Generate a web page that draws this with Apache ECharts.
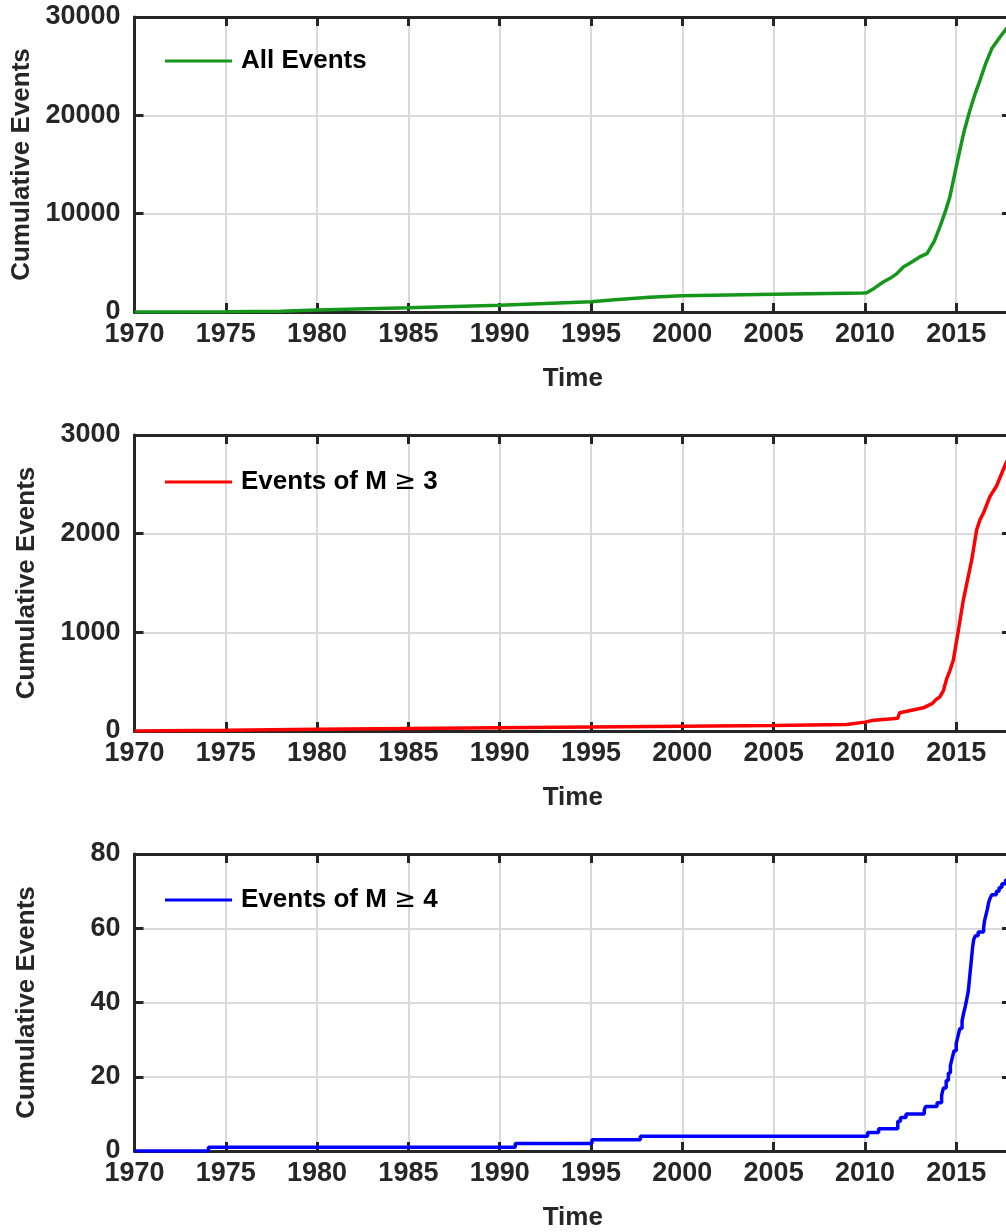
<!DOCTYPE html>
<html>
<head>
<meta charset="utf-8">
<title>Cumulative Events</title>
<script src="https://cdn.jsdelivr.net/npm/echarts@6/dist/echarts.min.js"></script>
<style>
  html, body { margin: 0; padding: 0; background: #ffffff; }
  #chart { width: 1006px; height: 1232px; }
</style>
</head>
<body>
<div id="chart"></div>
<script>
// Cumulative counts over time (decimal years)
const allTimes  = [1970, 1975, 1978, 1980, 1985, 1990, 1995, 1996.3, 1998.2, 2000, 2005, 2009.9,
                   2010.1, 2010.5, 2011.0, 2011.4, 2011.75, 2012.1, 2012.5, 2013.0, 2013.4, 2013.8,
                   2014.1, 2014.4, 2014.65, 2015.0, 2015.4, 2015.75, 2016.0, 2016.3, 2016.6,
                   2016.95, 2017.4, 2017.75, 2017.9];
const allCounts = [0, 30, 80, 200, 440, 690, 1050, 1250, 1500, 1640, 1800, 1940,
                   1960, 2400, 3050, 3450, 3900, 4580, 5000, 5600, 5940, 7200,
                   8640, 10200, 11700, 14750, 18150, 20510, 22000, 23560, 25200,
                   26790, 27970, 28820, 29100];

const m3Times  = [1970, 1975, 1980, 1985, 1990, 1995, 2000, 2005, 2009, 2010, 2010.5, 2011.5,
                  2011.8, 2011.9, 2012.3, 2013.2, 2013.7, 2013.9, 2014.1, 2014.3, 2014.48,
                  2014.65, 2014.84, 2015.12, 2015.39, 2015.58, 2015.85, 2016.12, 2016.3,
                  2016.49, 2016.85, 2017.2, 2017.58, 2017.73, 2017.9];
const m3Counts = [0, 8, 18, 25, 32, 40, 47, 55, 66, 90, 110, 125,
                  130, 185, 200, 235, 280, 320, 345, 410, 530,
                  610, 717, 1022, 1327, 1497, 1734, 2039, 2140,
                  2209, 2378, 2480, 2650, 2717, 2780];

// M >= 4 events: count reached at each event time
const m4Times  = [1970, 1974.05, 1990.85, 1995.05, 1997.7, 2010.15, 2010.75, 2011.8, 2011.95,
                  2012.25, 2013.25, 2013.32, 2013.95, 2014.2, 2014.3, 2014.45, 2014.57, 2014.68,
                  2014.78, 2014.88, 2015.0, 2015.1, 2015.2, 2015.32, 2015.4, 2015.5, 2015.58,
                  2015.66, 2015.72, 2015.78, 2015.84, 2015.9, 2015.96, 2016.05, 2016.2, 2016.5,
                  2016.55, 2016.6, 2016.7, 2016.78, 2016.85, 2016.95, 2017.2, 2017.35, 2017.5,
                  2017.7, 2017.9];
const m4Counts = [0, 1, 2, 3, 4, 5, 6, 8, 9,
                  10, 11, 12, 13, 15, 17, 19, 21, 23,
                  25, 27, 29, 31, 33, 35, 37, 39, 41,
                  43, 46, 49, 52, 55, 57, 58, 59, 60,
                  62, 63, 65, 67, 68, 69, 70, 71, 72,
                  73, 73];

const seriesNames = ['All Events', 'Events of M ≥ 3', 'Events of M ≥ 4'];
const yMaxima = [30000, 3000, 80];
const ySteps  = [10000, 1000, 20];
const xMin = 1970, xMax = 2018, xStep = 5;

const FONT = '"Liberation Sans", Arial, Helvetica, sans-serif';
const INK = '#262626';
const colors = ['#17961c', '#ff0000', '#0000ff'];
const panelTops = [17, 435, 854];
const panelHeights = [295, 296, 297];
const legendCenters = [61, 482, 900];
const plotLeft = 134.5, plotWidth = 876.5;

const pairs = (t, v) => t.map((x, i) => [x, v[i]]);
const dataSets = [pairs(allTimes, allCounts), pairs(m3Times, m3Counts), pairs(m4Times, m4Counts)];

const frameLine = { show: true, onZero: false, lineStyle: { color: INK, width: 3 } };
const innerTick = { show: true, inside: true, length: 9, lineStyle: { color: INK, width: 3 } };
const gridLine = { show: true, lineStyle: { color: '#dadada', width: 2 } };
const labelStyle = { color: INK, fontSize: 27, fontWeight: 'bold', fontFamily: FONT, formatter: v => String(v) };

const grid = [], xAxis = [], yAxis = [], series = [], legend = [];

for (let i = 0; i < 3; i++) {
  grid.push({ left: plotLeft, width: plotWidth, top: panelTops[i], height: panelHeights[i],
              containLabel: false, outerBoundsMode: 'none' });

  xAxis.push({
    gridIndex: i, type: 'value', position: 'bottom', min: xMin, max: xMax, interval: xStep,
    name: 'Time', nameLocation: 'middle', nameGap: 54,
    nameTextStyle: { color: INK, fontSize: 26, fontWeight: 'bold', fontFamily: FONT },
    axisLine: frameLine, axisTick: innerTick,
    axisLabel: Object.assign({ margin: 9, showMaxLabel: false }, labelStyle),
    splitLine: gridLine
  });
  xAxis.push({
    gridIndex: i, type: 'value', position: 'top', min: xMin, max: xMax, interval: xStep,
    axisLine: frameLine, axisTick: innerTick, axisLabel: { show: false }, splitLine: { show: false }
  });

  yAxis.push({
    gridIndex: i, type: 'value', position: 'left', min: 0, max: yMaxima[i], interval: ySteps[i],
    name: 'Cumulative Events', nameLocation: 'middle', nameGap: 95, nameRotate: 90,
    nameTextStyle: { color: INK, fontSize: 26, fontWeight: 'bold', fontFamily: FONT },
    axisLine: frameLine, axisTick: innerTick,
    axisLabel: Object.assign({ margin: 14 }, labelStyle),
    splitLine: gridLine
  });
  yAxis.push({
    gridIndex: i, type: 'value', position: 'right', min: 0, max: yMaxima[i], interval: ySteps[i],
    axisLine: frameLine, axisTick: innerTick, axisLabel: { show: false }, splitLine: { show: false }
  });

  series.push({
    name: seriesNames[i], type: 'line', xAxisIndex: 2 * i, yAxisIndex: 2 * i,
    data: dataSets[i], showSymbol: false, symbol: 'none', step: i === 2 ? 'end' : false,
    lineStyle: { color: colors[i], width: 3.5 }, itemStyle: { color: colors[i] },
    z: 5, animation: false
  });

  legend.push({
    data: [seriesNames[i]], left: 165, top: legendCenters[i] - 15, padding: 0,
    icon: 'rect', itemWidth: 67, itemHeight: 3, selectedMode: false,
    formatter: name => name.replace('≥', '{g|≥}'),
    textStyle: {
      color: '#000000', fontSize: 26, fontWeight: 'bold', fontFamily: FONT,
      padding: [0, 0, 0, 4], lineHeight: 30,
      rich: { g: { fontSize: 26, fontWeight: 'normal', fontFamily: '"DejaVu Sans", sans-serif', color: '#000000' } }
    }
  });
}

const chart = echarts.init(document.getElementById('chart'), null, { renderer: 'canvas' });
chart.setOption({ backgroundColor: '#ffffff', animation: false, grid, xAxis, yAxis, series, legend });
</script>
</body>
</html>
